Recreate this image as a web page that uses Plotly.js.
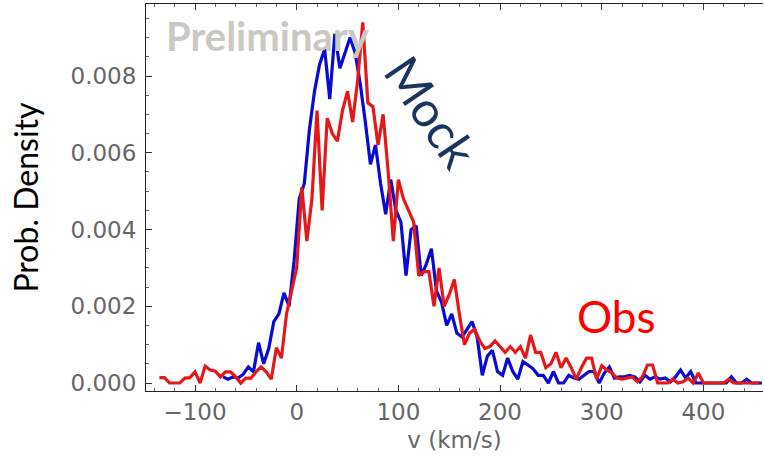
<!DOCTYPE html>
<html>
<head>
<meta charset="utf-8">
<script src="https://cdn.plot.ly/plotly-3.0.1.min.js"></script>
<style>html,body{margin:0;padding:0;background:#fff;}#chart{width:764px;height:466px;}</style>
</head>
<body>
<div id="chart"></div>
<script>
// Observed distribution (red), bin centres in km/s
const obsV = [-135,-130,-125,-120,-115,-110,-105,-100,-95,-90,-85,-80,-75,-70,-65,-60,-55,-50,-45,-40,-35,-30,-25,-20,-15,-10,-5,0,5,10,15,20,25,30,35,40,45,50,55,60,65,70,75,80,85,90,95,100,105,110,115,120,125,130,135,140,145,150,155,160,165,170,175,180,185,190,195,200,205,210,215,220,225,230,235,240,245,250,255,260,265,270,275,280,285,290,295,300,305,310,315,320,325,330,335,340,345,350,355,360,365,370,375,380,385,390,395,400,405,410,415,420,425,430,435,440,445,450,455];
const obsP = [0.00014,0.00014,0,0,0,0.00013,0.00014,0.00029,0,0.00044,0.00034,0.00031,0.00016,0.00029,0.00029,0.00016,0,0.00013,0.00013,0.00029,0.00042,0.00029,0.0001,0.00092,0.00065,0.0018,0.0024,0.0030,0.0051,0.0037,0.0048,0.0071,0.0045,0.0069,0.0065,0.0063,0.0071,0.0076,0.0068,0.0079,0.0094,0.0073,0.0072,0.0062,0.0070,0.0055,0.0037,0.0053,0.0048,0.0045,0.0042,0.0028,0.0029,0.0029,0.0020,0.0030,0.0020,0.0023,0.0027,0.0018,0.0010,0.0013,0.0014,0.0011,0.0009,0.00095,0.0011,0.00095,0.0008,0.00095,0.0008,0.00095,0.00065,0.00125,0.0008,0.0008,0.0004,0.0005,0.0008,0.0004,0.00065,0.0004,0.0001,0.0004,0.00065,0.00065,0.0001,0.00045,0.00034,0.00026,0.00013,0.0001,0.00013,0.00016,0.00003,0.00016,0.00047,0.00047,0,0,0,0.0001,0,0.00003,0.00013,0,0.00026,0,0,0,0,0,0.0001,0,0,0,0,0,0];

// Mock distribution (blue)
const mockV = [-72.5,-67.5,-62.5,-57.5,-52.5,-47.5,-42.5,-37.5,-32.5,-27.5,-22.5,-17.5,-12.5,-7.5,-2.5,2.5,7.5,12.5,17.5,22.5,27.5,32.5,37.5,42.5,47.5,52.5,57.5,62.5,67.5,72.5,77.5,82.5,87.5,92.5,97.5,102.5,107.5,112.5,117.5,122.5,127.5,132.5,137.5,142.5,147.5,152.5,157.5,162.5,167.5,172.5,177.5,182.5,187.5,192.5,197.5,202.5,207.5,212.5,217.5,222.5,227.5,232.5,237.5,242.5,247.5,252.5,257.5,262.5,267.5,272.5,277.5,282.5,287.5,292.5,297.5,302.5,307.5,312.5,317.5,322.5,327.5,332.5,337.5,342.5,347.5,352.5,357.5,362.5,367.5,372.5,377.5,382.5,387.5,392.5,397.5,402.5,407.5,412.5,417.5,422.5,427.5,432.5,437.5,442.5,447.5,452.5,457.5];
const mockP = [0.00016,0.0001,0.00016,0.00013,0.00023,0.00042,0.00029,0.00105,0.0005,0.0009,0.0016,0.0018,0.00235,0.0020,0.0032,0.0048,0.0052,0.0066,0.0076,0.0083,0.0087,0.0074,0.0091,0.0082,0.0086,0.0090,0.0086,0.0078,0.0068,0.0057,0.0062,0.0052,0.0044,0.0053,0.0045,0.0042,0.0028,0.0040,0.0041,0.0028,0.0031,0.0035,0.0024,0.0021,0.0015,0.0018,0.0013,0.0012,0.0014,0.0016,0.0012,0.0002,0.0007,0.00085,0.0003,0.0002,0.00065,0.0003,0.0001,0.00056,0.00047,0.00037,0.0002,0.0002,0,0.0003,0,0,0.0002,0.00013,0.0001,0.0002,0.0003,0.0003,0,0.00026,0.00042,0.00013,0.00016,0.00016,0.0002,0.00016,0.00003,0.0002,0.0001,0.00016,0.0001,0.00013,0.00003,0.00016,0.00034,0.00013,0.0003,0,0,0,0,0,0,0,0.00016,0,0,0.0001,0,0,0];

const xTicks = [-100,0,100,200,300,400];
const yTicks = [0,0.002,0.004,0.006,0.008];

const tickFont = {family: 'DejaVu Sans', size: 23, color: '#666666'};

const traces = [
  {x: mockV, y: mockP, type: 'scatter', mode: 'lines', name: 'Mock',
   line: {color: '#0a0ad2', width: 3.2}, showlegend: false},
  {x: obsV, y: obsP, type: 'scatter', mode: 'lines', name: 'Obs',
   line: {color: '#e41818', width: 3.2}, showlegend: false}
];

const layout = {
  width: 764, height: 466,
  margin: {l: 146, r: 1, t: 4, b: 75},
  paper_bgcolor: '#ffffff', plot_bgcolor: '#ffffff',
  showlegend: false,
  xaxis: {
    range: [-148.2, 458.6],
    tickvals: xTicks,
    ticks: 'inside', ticklen: 6, tickwidth: 1, tickcolor: '#333',
    minor: {dtick: 20, tick0: 0, ticks: 'inside', ticklen: 3, tickcolor: '#666', showgrid: false},
    showgrid: false, zeroline: false,
    showline: true, linecolor: '#222', linewidth: 1, mirror: 'ticks',
    tickfont: tickFont,
    title: {text: 'v (km/s)', font: {family: 'DejaVu Sans', size: 23, color: '#666666'}, standoff: 8}
  },
  yaxis: {
    range: [-0.000208, 0.009876],
    tickvals: yTicks, tickformat: '.3f',
    ticks: 'inside', ticklen: 6, tickwidth: 1, tickcolor: '#333',
    minor: {dtick: 0.0005, tick0: 0, ticks: 'inside', ticklen: 3, tickcolor: '#666', showgrid: false},
    showgrid: false, zeroline: false,
    showline: true, linecolor: '#222', linewidth: 1, mirror: false,
    tickfont: tickFont, ticklabelstandoff: 4,
    title: {text: 'Prob. Density', font: {family: 'Lato', size: 32, color: '#000'}, standoff: 22}
  },
  annotations: [
    {text: '<b>Preliminary</b>', xref: 'paper', yref: 'paper', x: 0.198, y: 0.917,
     xanchor: 'center', yanchor: 'middle', showarrow: false,
     font: {family: 'Lato', size: 40, color: '#cbc8c2'}},
    {text: 'Mock', xref: 'paper', yref: 'paper', x: 0.4635, y: 0.721,
     xanchor: 'center', yanchor: 'middle', showarrow: false, textangle: 56,
     font: {family: 'Lato', size: 49, color: '#1c355e'}},
    {text: 'Obs', xref: 'paper', yref: 'paper', x: 0.763, y: 0.194,
     xanchor: 'center', yanchor: 'middle', showarrow: false,
     font: {family: 'Lato', size: 44, color: '#ff0000'}}
  ]
};

Plotly.newPlot('chart', traces, layout, {displayModeBar: false, staticPlot: true});
</script>
</body>
</html>
